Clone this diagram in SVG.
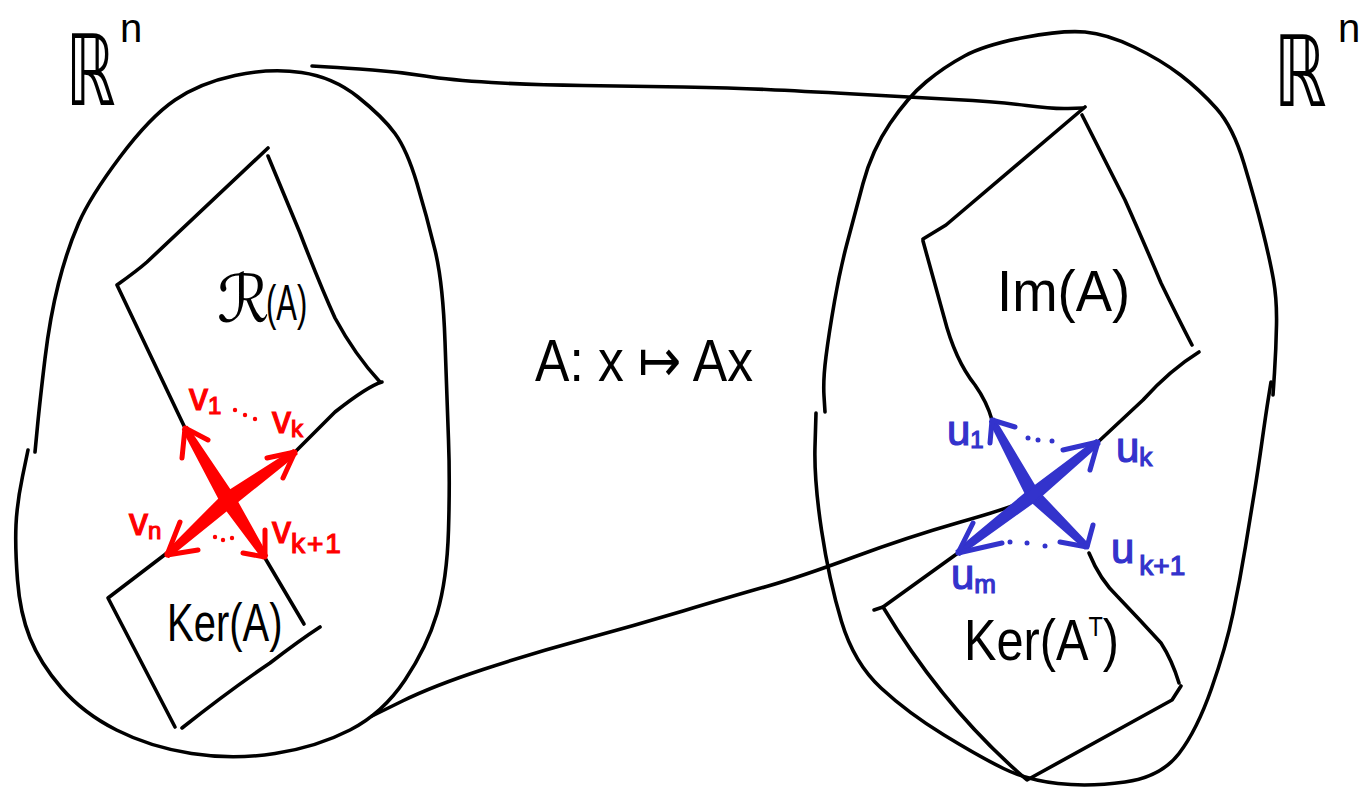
<svg xmlns="http://www.w3.org/2000/svg" width="1364" height="790" viewBox="0 0 1364 790">
<style>
.ink{fill:none;stroke:#000;stroke-width:3.6;stroke-linecap:round;stroke-linejoin:round}
.rshaft{fill:#ff0000;stroke:#ff0000;stroke-width:2;stroke-linejoin:round}
.rhead{fill:none;stroke:#ff0000;stroke-width:5;stroke-linecap:round;stroke-linejoin:round}
.bshaft{fill:#3333cc;stroke:#3333cc;stroke-width:2;stroke-linejoin:round}
.bhead{fill:none;stroke:#3333cc;stroke-width:5;stroke-linecap:round;stroke-linejoin:round}
.lbl{font-family:"Liberation Sans","DejaVu Sans",sans-serif;fill:#000}
.sym{font-family:"DejaVu Sans","Liberation Sans",sans-serif;fill:#000}
.rl{font-family:"Liberation Sans","DejaVu Sans",sans-serif;fill:#ff0000;stroke:#ff0000;stroke-width:1.2}
.bl{font-family:"Liberation Sans","DejaVu Sans",sans-serif;fill:#3333cc;stroke:#3333cc;stroke-width:1.2}
</style>
<rect width="1364" height="790" fill="#fff"/>

<g id="domain-space">
<path class="ink" d="M35,452 L37.5,426 Q40,400 45,358.5 Q50,317 58.5,283.5 Q67,250 78.5,223.5 Q90,197 120,157 Q150,117 175,100 Q200,83 235,75.5 Q270,68 301.5,72.5 Q333,77 358,97 Q383,117 395,133.5 Q407,150 417,183.5 Q427,217 435,250 Q443,283 445,341.5 Q447,400 448.5,440 Q450,480 448.5,530 Q447,580 437,613.5 Q427,647 405,680 Q383,713 350,730 Q317,747 275,753.5 Q233,760 191.5,753.5 Q150,747 116.5,730 Q83,713 61.5,688 Q40,663 30,638 Q20,613 17.5,580 Q15,547 16,525 Q17,503 22.5,476.5 L28,450"/>
<text class="sym" transform="translate(66,105) scale(0.64,1)" font-size="98">ℝ</text>
<text class="lbl" x="120" y="42" font-size="40">n</text>
</g>

<g id="codomain-space">
<path class="ink" d="M825,412 L824,396 Q823,380 826,356.5 Q829,333 834.5,301.5 Q840,270 847,243.5 Q854,217 863,183.5 Q872,150 890,123.5 Q908,97 926,82 Q944,67 964.5,56 Q985,45 1024,37.5 Q1063,30 1085,32 Q1107,34 1134,47 Q1161,60 1180.5,75 Q1200,90 1216.5,108.5 Q1233,127 1244,163.5 Q1255,200 1262.5,230 Q1270,260 1273.5,280 Q1277,300 1276.5,325 Q1276,350 1274.5,372.5 L1273,395"/>
<path class="ink" d="M1271,382 L1268.5,397.5 Q1266,413 1262,441.5 Q1258,470 1254.5,491.5 Q1251,513 1245.5,546.5 Q1240,580 1233,613.5 Q1226,647 1211.5,688.5 Q1197,730 1179,753.5 Q1161,777 1125,782 Q1089,787 1058,783.5 Q1027,780 1003.5,768.5 Q980,757 944,735 Q908,713 881,688 Q854,663 841.5,621.5 Q829,580 821.5,530 Q814,480 815,446.5 L816,413"/>
<text class="sym" transform="translate(1274,106) scale(0.68,1)" font-size="98">ℝ</text>
<text class="lbl" x="1338" y="42" font-size="40">n</text>
</g>

<g id="row-space">
<path class="ink" d="M268,148 L147,262 Q138,270 117,285 L185,428"/>
<path class="ink" d="M268,156 L300,233 Q320,285 335,318 Q355,355 380,382"/>
<path class="ink" d="M382,382 Q368,386 335,412 L295,452"/>
<text class="sym" x="217" y="322" font-size="66">ℛ</text>
<text class="lbl" transform="translate(266,320) scale(0.62,1)" font-size="50">(A)</text>
</g>

<g id="kernel">
<path class="ink" d="M167,553 L108,598 L175,727"/>
<path class="ink" d="M182,728 Q230,690 270,663 Q300,640 320,627"/>
<path class="ink" d="M265,558 L304,624"/>
<text class="lbl" transform="translate(167,641) scale(0.74,1)" font-size="54">Ker(A)</text>
</g>

<g id="image">
<path class="ink" d="M1085,107 L946,225 L923,239"/>
<path class="ink" d="M923,241 L944,317 Q955,360 975,385 Q987,402 992,420"/>
<path class="ink" d="M1082,115 L1125,200 Q1145,245 1161,283 Q1178,318 1192,345"/>
<path class="ink" d="M1199,352 Q1170,370 1143,400 L1098,442"/>
<text class="lbl" transform="translate(997,311) scale(0.94,1)" font-size="58">Im(A)</text>
</g>

<g id="left-kernel">
<path class="ink" d="M958,553 L883,607 L874,610"/>
<path class="ink" d="M883,607 Q945,710 1027,780 Q1100,740 1172,700 L1181,686"/>
<path class="ink" d="M1089,553 Q1100,580 1118,597 Q1140,620 1161,643 Q1172,660 1179,683"/>
<text class="lbl" transform="translate(964,660) scale(0.84,1)" font-size="58">Ker(A<tspan font-size="28" dy="-24">T</tspan><tspan dy="24">)</tspan></text>
</g>

<g id="connectors">
<path class="ink" d="M312,66 L328.5,67 Q345,68 372.5,70 Q400,72 425,76 Q450,80 491.5,82.5 Q533,85 583,85.5 Q633,86 683,87 Q733,88 766.5,89.5 Q800,91 854,94 Q908,97 954,99.5 Q1000,102 1026.5,105.5 Q1053,109 1068,108.5 L1083,108"/>
<path class="ink" d="M372,716 L402.5,701 Q433,686 483,669.5 Q533,653 583,639.5 Q633,626 683,611 Q733,596 766.5,586.5 Q800,577 854,557 Q908,537 960.5,522 Q1013,507 1021.5,502 L1030,497"/>
</g>

<g id="map-label">
<text class="lbl" x="535" y="381" font-size="60" textLength="218" lengthAdjust="spacingAndGlyphs">A: x ↦ Ax</text>
</g>

<g id="red-basis">
<polygon class="rshaft" points="182.9,429.3 222.05,503.7 262.9,558.3 267.1,555.7 233.95,496.3 187.1,426.7"/>
<polygon class="rshaft" points="168.6,557 232.4,505.5 296.6,454 293.4,450.1 223.6,494.6 165.4,553.1"/>
<path class="rhead" d="M182,458 L185,428 L208,440"/>
<path class="rhead" d="M267,458 L295,452 L283,478"/>
<path class="rhead" d="M180,522 L167,555 L198,550"/>
<path class="rhead" d="M243,553 L265,557 L265,530"/>
<circle cx="235" cy="410" r="2.2" fill="#ff0000"/>
<circle cx="245" cy="415" r="2.2" fill="#ff0000"/>
<circle cx="255" cy="419" r="2.2" fill="#ff0000"/>
<circle cx="215" cy="537" r="2.2" fill="#ff0000"/>
<circle cx="223" cy="540" r="2.2" fill="#ff0000"/>
<circle cx="232" cy="538" r="2.2" fill="#ff0000"/>
<text class="rl" x="189" y="410" font-size="38">v<tspan font-size="24" dy="4">1</tspan></text>
<text class="rl" x="272" y="433" font-size="38">v<tspan font-size="24" dy="4">k</tspan></text>
<text class="rl" x="129" y="535" font-size="38">v<tspan font-size="24" dy="4">n</tspan></text>
<text class="rl" x="272" y="543" font-size="38">v<tspan font-size="28" dy="10" letter-spacing="2">k+1</tspan></text>
</g>

<g id="blue-basis">
<polygon class="bshaft" points="990,421.5 1028.2,498.6 1085,548.5 1089,545.5 1037.8,491.4 994,418.5"/>
<polygon class="bshaft" points="959.6,555 1036.7,499.7 1099.6,444 1096.4,440 1029.3,490.3 956.4,551"/>
<path class="bhead" d="M990,443 L992,420 L1015,427"/>
<path class="bhead" d="M1063,450 L1098,442 L1090,470"/>
<path class="bhead" d="M973,523 L958,553 L1002,543"/>
<path class="bhead" d="M1060,542 L1087,547 L1093,525"/>
<circle cx="1028" cy="438" r="2.5" fill="#3333cc"/>
<circle cx="1038" cy="440" r="2.5" fill="#3333cc"/>
<circle cx="1052" cy="441" r="2.5" fill="#3333cc"/>
<circle cx="1010" cy="542" r="2.5" fill="#3333cc"/>
<circle cx="1027" cy="543" r="2.5" fill="#3333cc"/>
<circle cx="1045" cy="546" r="2.5" fill="#3333cc"/>
<text class="bl" x="947" y="445" font-size="42">u<tspan font-size="24" dy="3">1</tspan></text>
<text class="bl" x="1116" y="462" font-size="42">u<tspan font-size="26" dy="4">k</tspan></text>
<text class="bl" x="951" y="589" font-size="42">u<tspan font-size="26" dy="4">m</tspan></text>
<text class="bl" x="1111" y="563" font-size="42">u<tspan font-size="28" dx="5" dy="12">k+1</tspan></text>
</g>
</svg>
